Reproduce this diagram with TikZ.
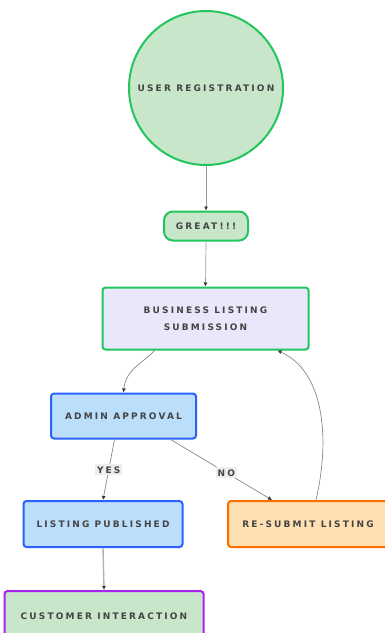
\documentclass[tikz,border=0pt]{standalone}
\usepackage{fontspec}
\setmainfont{DejaVu Sans}
\newfontfamily\labelfont[LetterSpace=24]{DejaVu Sans}
\usetikzlibrary{arrows.meta,calc}
\definecolor{txtgray}{HTML}{444444}
\definecolor{greenline}{HTML}{22C55E}
\definecolor{greenfill}{HTML}{C8E6C9}
\definecolor{lavfill}{HTML}{E8E8FA}
\definecolor{bluefill}{HTML}{BBDEFB}
\definecolor{blueline}{HTML}{2962FF}
\definecolor{orangefill}{HTML}{FFE0B2}
\definecolor{orangeline}{HTML}{FF6D00}
\definecolor{purpleline}{HTML}{AA22EE}
\definecolor{edgegray}{HTML}{888888}
\tikzset{
  lbl/.style={font=\labelfont\fontsize{9}{12}\selectfont\bfseries, text=txtgray, align=center},
  boxbase/.style={lbl, rounded corners=3pt, line width=2pt, inner sep=0pt},
  greenbox/.style={boxbase, draw=greenline, fill=greenfill},
  flow/.style={draw=edgegray, line width=0.7pt, -{Latex[length=4pt,width=4pt,fill=black!80,color=black!80]}},
  edgelabel/.style={lbl, fill=black!7, inner sep=2pt}
}
\begin{document}
\begin{tikzpicture}[x=1pt,y=-1pt]
\useasboundingbox (0,0) rectangle (384,633);
\fill[white] (0,0) rectangle (384,633);

% nodes
\node[lbl, circle, draw=greenline, fill=greenfill, line width=2pt, minimum size=154pt, inner sep=0pt] (reg) at (206,88) {USER REGISTRATION};
\node[greenbox, rounded corners=9pt, minimum width=84pt, minimum height=29pt] (great) at (206,226) {GREAT!!!};
\node[boxbase, draw=greenline, fill=lavfill, minimum width=206pt, minimum height=62pt] (sub) at (205.5,318.5) {BUSINESS LISTING\\[5pt]SUBMISSION};
\node[boxbase, draw=blueline, fill=bluefill, minimum width=145pt, minimum height=45pt] (adm) at (123.5,416) {ADMIN APPROVAL};
\node[boxbase, draw=blueline, fill=bluefill, minimum width=159pt, minimum height=46pt] (pub) at (103,524) {LISTING PUBLISHED};
\node[boxbase, draw=orangeline, fill=orangefill, minimum width=160pt, minimum height=46pt] (res) at (308,524) {RE-SUBMIT LISTING};
\node[boxbase, draw=purpleline, fill=greenfill, minimum width=199pt, minimum height=50pt] (cust) at (104,616) {CUSTOMER INTERACTION};

% connectors
\draw[flow, draw=black!40] (reg.south) -- (great.north);
\draw[flow, draw=black!40] (great.south) -- (sub.north);
\draw[flow] ($(sub.south)+(-51,0)$) .. controls (145,362) and (126,368) .. (adm.north);
\draw[flow] ($(adm.south)+(-9,0)$) -- node[edgelabel, pos=0.5] {YES} (pub.north);
\draw[flow] ($(adm.south)+(47,0)$) -- node[edgelabel, pos=0.55] {NO} ($(res.north)+(-36,0)$);
\draw[flow, draw=black!30, line width=1.4pt] (pub.south) -- (cust.north);
\draw[flow] ($(res.north)+(8,0)$) .. controls (330,440) and (325,372) .. ($(sub.south)+(72,0)$);
\end{tikzpicture}
\end{document}
